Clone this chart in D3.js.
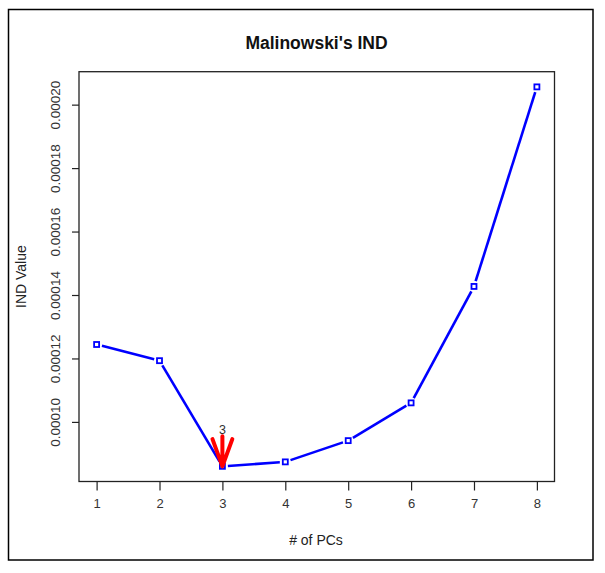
<!DOCTYPE html>
<html>
<head>
<meta charset="utf-8">
<script src="https://cdn.jsdelivr.net/npm/d3@7"></script>
<style>
  html, body { margin: 0; padding: 0; background: #fff; }
  svg { display: block; font-family: "Liberation Sans", Arial, sans-serif; }
</style>
</head>
<body>
<svg id="chart" width="605" height="573"></svg>
<script>
// ---- data ----
const pcs = [1, 2, 3, 4, 5, 6, 7, 8];
const indValues = [0.0001244, 0.0001193, 0.0000860, 0.0000874, 0.0000941, 0.0001060, 0.0001427, 0.0002056];
const yTickValues = [0.00010, 0.00012, 0.00014, 0.00016, 0.00018, 0.00020];
const yTickLabels = ["0.00010", "0.00012", "0.00014", "0.00016", "0.00018", "0.00020"];
const xTickLabels = ["1", "2", "3", "4", "5", "6", "7", "8"];
const arrowFrom = [3, 0.0000955];   // [x, y] start of red arrow
const arrowTo = [3, 0.0000860];     // tip of red arrow (minimum)
const arrowLabel = "3";
const titleText = "Malinowski's IND";
const xTitle = "# of PCs";
const yTitle = "IND Value";

// ---- layout ----
const svg = d3.select("#chart");
const box = { left: 79, right: 554.5, top: 71.7, bottom: 481.5 };

// R-style 4% axis extension
const xExt = (d3.max(pcs) - d3.min(pcs)) * 0.04;
const yMin = d3.min(indValues), yMax = d3.max(indValues);
const yExt = (yMax - yMin) * 0.04;

const x = d3.scaleLinear().domain([d3.min(pcs) - xExt, d3.max(pcs) + xExt]).range([box.left, box.right]);
const y = d3.scaleLinear().domain([yMin - yExt, yMax + yExt]).range([box.bottom, box.top]);

// outer frame
svg.append("rect").attr("x", 8.5).attr("y", 9.5).attr("width", 584.5).attr("height", 550.5)
  .attr("fill", "none").attr("stroke", "#000").attr("stroke-width", 1.5);

// plot box
svg.append("rect").attr("x", box.left).attr("y", box.top)
  .attr("width", box.right - box.left).attr("height", box.bottom - box.top)
  .attr("fill", "none").attr("stroke", "#222").attr("stroke-width", 1.3);

// x axis
const xAxis = d3.axisBottom(x).tickValues(pcs).tickFormat((d, i) => xTickLabels[i])
  .tickSizeInner(9).tickSizeOuter(0).tickPadding(8);
const gx = svg.append("g").attr("transform", `translate(0,${box.bottom})`).call(xAxis);
gx.select(".domain").remove();
gx.selectAll(".tick line").attr("stroke", "#222").attr("stroke-width", 1.2);
gx.selectAll(".tick text").attr("fill", "#333").style("font-size", "13px");

// y axis
const yAxis = d3.axisLeft(y).tickValues(yTickValues).tickFormat((d, i) => yTickLabels[i])
  .tickSizeInner(7).tickSizeOuter(0).tickPadding(6);
const gy = svg.append("g").attr("transform", `translate(${box.left},0)`).call(yAxis);
gy.select(".domain").remove();
gy.selectAll(".tick line").attr("stroke", "#222").attr("stroke-width", 1.2);
gy.selectAll(".tick text")
  .attr("fill", "#333").style("font-size", "13.5px")
  .attr("x", null).attr("dy", null)
  .attr("text-anchor", "middle")
  .attr("transform", "translate(-24,0) rotate(-90)")
  .attr("dy", "0.35em");

// titles
svg.append("text").attr("x", 316.5).attr("y", 48.5).attr("text-anchor", "middle")
  .style("font-size", "17.5px").style("font-weight", "bold").attr("fill", "#111").text(titleText);
svg.append("text").attr("x", 316).attr("y", 545).attr("text-anchor", "middle")
  .style("font-size", "14px").attr("fill", "#222").text(xTitle);
svg.append("text").attr("transform", `translate(25.5,${(box.top + box.bottom) / 2}) rotate(-90)`)
  .attr("text-anchor", "middle").style("font-size", "14px").attr("fill", "#222").text(yTitle);

// line with gaps around points (R type="b")
const pts = pcs.map((p, i) => [x(p), y(indValues[i])]);
const gap = 5.5;
const segs = d3.pairs(pts).map(([a, b]) => {
  const dx = b[0] - a[0], dy = b[1] - a[1];
  const len = Math.hypot(dx, dy);
  const ux = dx / len, uy = dy / len;
  return [[a[0] + ux * gap, a[1] + uy * gap], [b[0] - ux * gap, b[1] - uy * gap]];
});
svg.append("g").selectAll("line").data(segs).join("line")
  .attr("x1", d => d[0][0]).attr("y1", d => d[0][1])
  .attr("x2", d => d[1][0]).attr("y2", d => d[1][1])
  .attr("stroke", "#0000ff").attr("stroke-width", 2.6);

// square markers
const ms = 5;
svg.append("g").selectAll("rect").data(pcs).join("rect")
  .attr("x", (d) => x(d) - ms / 2).attr("y", (d, i) => y(indValues[i]) - ms / 2)
  .attr("width", ms).attr("height", ms)
  .attr("fill", "none").attr("stroke", "#0000ff").attr("stroke-width", 1.8);

// red arrow to minimum
const ax0 = x(arrowFrom[0]), ay0 = y(arrowFrom[1]);
const ax1 = x(arrowTo[0]), ay1 = y(arrowTo[1]);
const headLen = 29, headAng = 20 * Math.PI / 180;
const ang = Math.atan2(ay1 - ay0, ax1 - ax0);
const arrowPath = d3.path();
arrowPath.moveTo(ax0, ay0); arrowPath.lineTo(ax1, ay1);
arrowPath.moveTo(ax1 - headLen * Math.cos(ang - headAng), ay1 - headLen * Math.sin(ang - headAng));
arrowPath.lineTo(ax1, ay1);
arrowPath.lineTo(ax1 - headLen * Math.cos(ang + headAng), ay1 - headLen * Math.sin(ang + headAng));
svg.append("path").attr("d", arrowPath.toString()).attr("fill", "none")
  .attr("stroke", "#ff0000").attr("stroke-width", 4).attr("stroke-linecap", "round").attr("stroke-linejoin", "round");

svg.append("text").attr("x", ax0).attr("y", ay0 - 2).attr("text-anchor", "middle")
  .style("font-size", "12.5px").attr("fill", "#333").text(arrowLabel);
</script>
</body>
</html>
